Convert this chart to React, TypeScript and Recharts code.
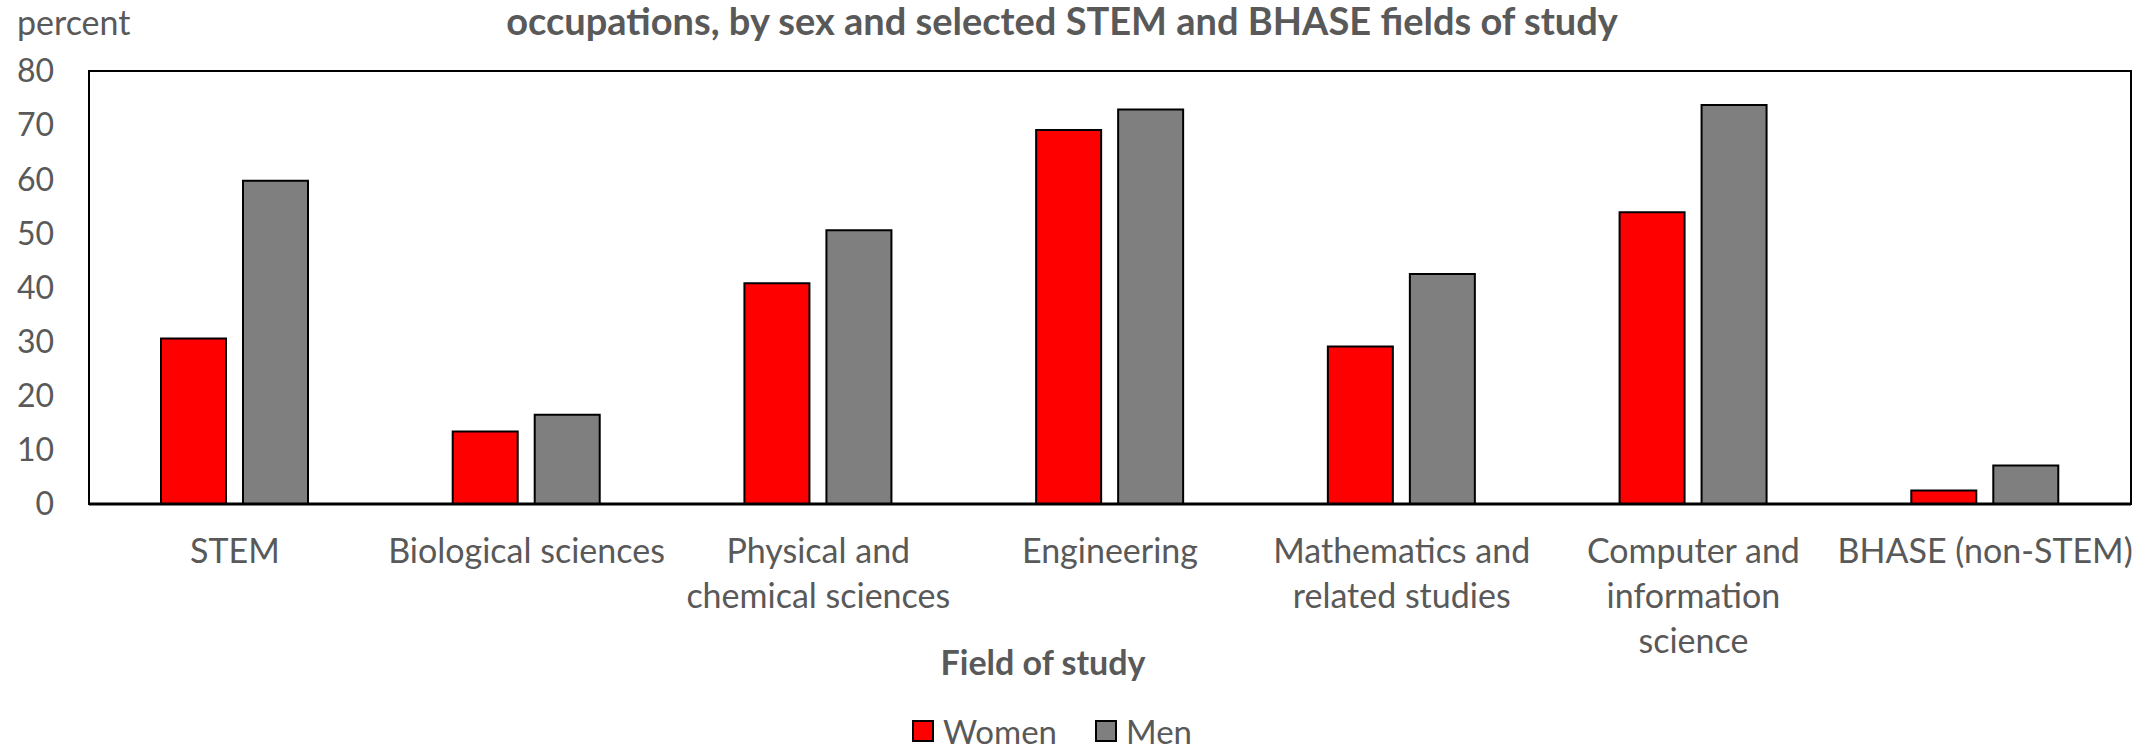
import React from 'react';
import { BarChart, Bar, XAxis, YAxis, Legend, ReferenceArea } from 'recharts';

// Fields of study (line breaks follow the wrapping in the original chart)
const fields = [
  'STEM',
  'Biological sciences',
  'Physical and\nchemical sciences',
  'Engineering',
  'Mathematics and\nrelated studies',
  'Computer and\ninformation\nscience',
  'BHASE (non-STEM)',
];

// Percent
const women = [30.6, 13.4, 40.8, 69.1, 29.1, 53.9, 2.5];
const men = [59.7, 16.5, 50.6, 72.9, 42.5, 73.7, 7.1];

const yTicks = [0, 10, 20, 30, 40, 50, 60, 70, 80];

const series = [
  { key: 'women', name: 'Women', color: '#FF0000' },
  { key: 'men', name: 'Men', color: '#7F7F7F' },
];

const TEXT = '#595959';
const FONT = 'Lato, "Open Sans", sans-serif';

const data = fields.map((field, i) => ({ field, women: women[i], men: men[i] }));

// multi-line category label under the axis
const FieldTick = (props: any) => {
  const { x, y, payload } = props;
  const lines = String(payload.value).split('\n');
  return (
    <text x={x} y={y} textAnchor="middle" fill={TEXT} fontSize={34} fontFamily={FONT}>
      {lines.map((line, i) => (
        <tspan key={i} x={x} y={y + 59 + i * 45}>
          {line}
        </tspan>
      ))}
    </text>
  );
};

const AxisTitle = (props: any) => {
  const { viewBox } = props;
  const cx = viewBox.x + viewBox.width / 2 - 67;
  return (
    <text x={cx} y={viewBox.y + 171} textAnchor="middle" fill={TEXT} fontSize={34} fontWeight="bold" fontFamily={FONT}>
      Field of study
    </text>
  );
};

const LegendContent = () => (
  <div style={{ display: 'flex', justifyContent: 'center', alignItems: 'center', height: 24, marginTop: 12 }}>
    {series.map((s, i) => (
      <div key={s.key} style={{ display: 'flex', alignItems: 'center', marginLeft: i > 0 ? 38 : 0 }}>
        <span style={{ width: 18, height: 18, background: s.color, border: '2px solid #000', marginRight: 9 }} />
        <span style={{ fontFamily: FONT, fontSize: 33, color: TEXT, lineHeight: '40px' }}>{s.name}</span>
      </div>
    ))}
  </div>
);

export default function App() {
  return (
    <div style={{ position: 'absolute', left: 0, top: 0, width: 2146, height: 747, background: '#fff' }}>
      <BarChart
        width={2146}
        height={747}
        data={data}
        margin={{ top: 71, right: 15, left: 0, bottom: 0 }}
        barSize={65}
        barGap={17}
      >
        <XAxis
          dataKey="field"
          interval={0}
          height={203}
          tickLine={false}
          tickSize={0}
          tickMargin={0}
          tick={<FieldTick />}
          axisLine={{ stroke: '#000', strokeWidth: 3 }}
          label={<AxisTitle />}
        />
        <YAxis
          domain={[0, 80]}
          ticks={yTicks}
          width={89}
          tickLine={false}
          tickSize={0}
          tickMargin={35}
          axisLine={{ stroke: '#000', strokeWidth: 2 }}
          tick={{ fill: TEXT, fontSize: 32, fontFamily: FONT }}
        />
        {/* plot frame */}
        <ReferenceArea y1={0} y2={80} fill="none" fillOpacity={0} stroke="#000" strokeWidth={2} ifOverflow="visible" />
        <Legend
          verticalAlign="bottom"
          height={40}
          content={<LegendContent />}
          wrapperStyle={{ left: 0, width: 2104, bottom: 0 }}
        />
        {series.map((s) => (
          <Bar
            key={s.key}
            dataKey={s.key}
            name={s.name}
            fill={s.color}
            stroke="#000"
            strokeWidth={2}
            isAnimationActive={false}
          />
        ))}
      </BarChart>
      <svg width={2146} height={747} style={{ position: 'absolute', left: 0, top: 0, pointerEvents: 'none' }}>
        <text x={1062} y={35} textAnchor="middle" fill={TEXT} fontSize={38} fontWeight="bold" fontFamily={FONT}>
          occupations, by sex and selected STEM and BHASE fields of study
        </text>
        <text x={17} y={35} fill={TEXT} fontSize={34} fontFamily={FONT}>
          percent
        </text>
      </svg>
    </div>
  );
}
